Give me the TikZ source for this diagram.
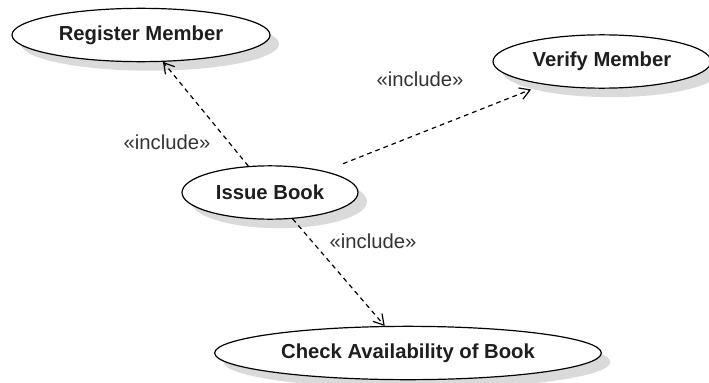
\documentclass[tikz,border=0pt]{standalone}
\usepackage{fontspec}
\setmainfont{Liberation Sans}
\usetikzlibrary{shapes.geometric,arrows.meta}

\tikzset{every picture/.style={line width=0.75pt}}
\tikzset{
  usecase/.style={ellipse, draw={rgb, 255:red, 0; green, 0; blue, 0 }, line width=0.9pt,
    fill=white, inner sep=0pt, minimum height=40pt,
    font=\fontsize{15.2}{18}\selectfont\bfseries, text={rgb, 255:red, 30; green, 30; blue, 30 }},
  caseshadow/.style={ellipse, draw=none, fill={rgb, 255:red, 218; green, 218; blue, 218 },
    inner sep=0pt, minimum height=40pt},
  stereo/.style={font=\fontsize{15.2}{18}\selectfont, text={rgb, 255:red, 51; green, 51; blue, 51 }},
  incl/.style={dash pattern={on 3.5pt off 3pt}, line width=0.9pt,
    -{Straight Barb[length=7.5pt,width=9pt,line width=0.9pt]}}
}

\begin{document}
\begin{tikzpicture}[x=0.75pt,y=0.75pt,yscale=-1,xscale=1]
\useasboundingbox (0,0) rectangle (709,382);

% shadows
\node [caseshadow, minimum width=193.5pt] (registershadow) at (150,44) {};
\node [caseshadow, minimum width=163.5pt] (verifyshadow) at (611,70.5) {};
\node [caseshadow, minimum width=132pt] (issueshadow) at (279,201.5) {};
\node [caseshadow, minimum width=290pt] (checkshadow) at (417,362) {};

% use cases
\node [usecase, minimum width=193.5pt] (register) at (141,35) {Register Member};
\node [usecase, minimum width=163.5pt] (verify) at (602,61.5) {Verify Member};
\node [usecase, minimum width=132pt] (issue) at (270,192.5) {Issue Book};
\node [usecase, minimum width=290pt] (check) at (408,353) {Check Availability of Book};

% include relations
\draw [incl] (issue) -- (register);
\draw [incl, shorten <=15pt, shorten >=10pt] (issue) -- (verify);
\draw [incl] (issue) -- (check);

% stereotypes
\node [stereo] (lblreg) at (167,142) {«include»};
\node [stereo] (lblver) at (420,79) {«include»};
\node [stereo] (lblchk) at (373,241) {«include»};

\end{tikzpicture}
\end{document}
